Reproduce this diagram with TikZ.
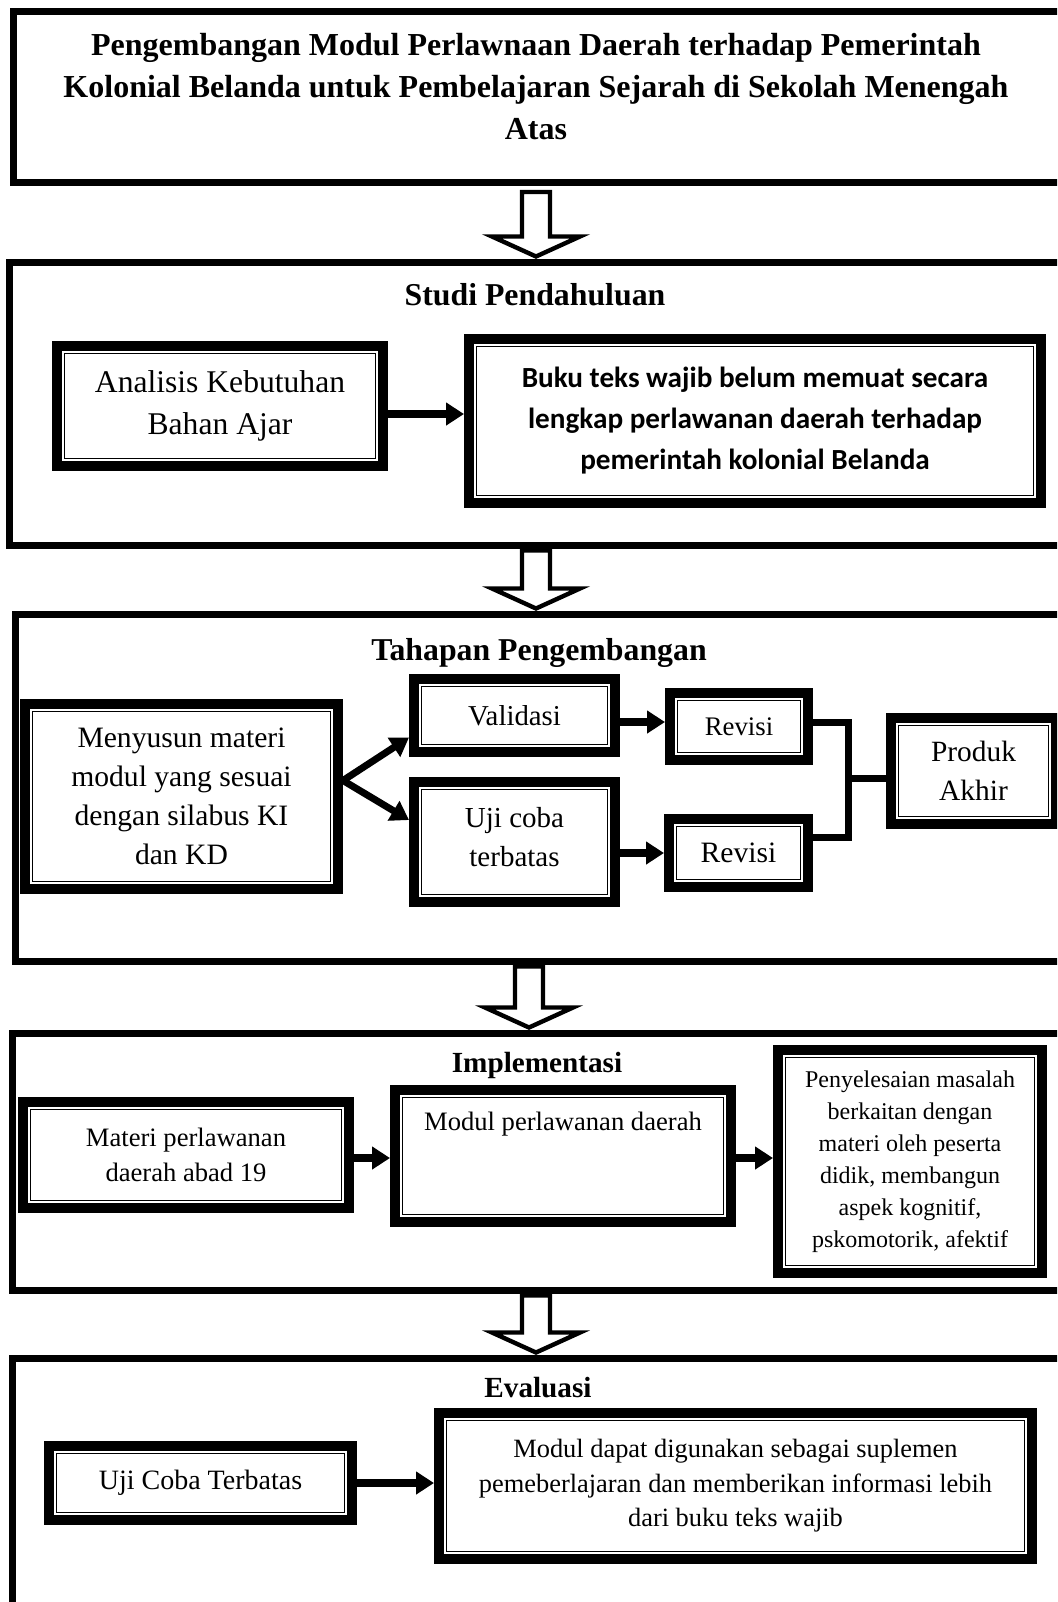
\documentclass[tikz,border=0pt]{standalone}
\usepackage{fontspec}
\setmainfont{Liberation Serif}
\newfontfamily\calib{Carlito}
\usetikzlibrary{arrows.meta,calc}
\newcommand{\fsz}[2]{\fontsize{#1}{#2}\selectfont}
\newcommand{\blockarr}[4]{%
  \coordinate (bx) at (#1,0);
  \path (bx |- #2.south) coordinate (bt) (bx |- #3.north) coordinate (bb);
  \draw[hollow] ($(bt)+(-14,#4)$) -- ($(bt)+(14,#4)$) -- ($(bb)+(14,-22)$) -- ($(bb)+(44,-22)$)
     -- ($(bb)+(0,-2)$) -- ($(bb)+(-44,-22)$) -- ($(bb)+(-14,-22)$) -- cycle;}
\begin{document}
\begin{tikzpicture}[x=0.5pt,y=-0.5pt,
  sec/.style={draw, line width=3.5pt, inner sep=0pt},
  dbox/.style={draw, line width=5pt, inner sep=0pt, align=center, fill=white},
  arr/.style={line width=4pt, -{Triangle[length=9pt,width=11pt]}},
  darr/.style={line width=3.5pt, -{Triangle[length=9pt,width=11pt]}},
  conn/.style={line width=3.5pt},
  hollow/.style={draw, fill=white, line width=2.2pt, line join=miter},
  headA/.style={font=\bfseries\fsz{15.9}{20}},
  headB/.style={font=\bfseries\fsz{14.6}{19}},
]
\useasboundingbox (0,0) rectangle (1057,1602);
\clip (0,0) rectangle (1057,1602);

% section frames
\node[sec, minimum width=530.75pt, minimum height=85.5pt] (s0) at (544.25,97) {};
\node[sec, minimum width=532.75pt, minimum height=141.5pt] (s1) at (542.25,403.5) {};
\node[sec, minimum width=530pt, minimum height=173.5pt] (s2) at (545,787.5) {};
\node[sec, minimum width=531.25pt, minimum height=128.5pt] (s3) at (543.75,1161.5) {};
\node[sec, minimum width=531.25pt, minimum height=141pt] (s4) at (543.75,1499) {};

% title and headings
\node[align=center, font=\bfseries\fsz{16}{21}] (title) at (536,87)
  {Pengembangan Modul Perlawnaan Daerah terhadap Pemerintah\\Kolonial Belanda untuk Pembelajaran Sejarah di Sekolah Menengah\\Atas};
\node[headA] (h1) at (535,295) {Studi Pendahuluan};
\node[headA] (h2) at (539,653) {Tahapan Pengembangan};
\node[headB] (h3) at (537,1065) {Implementasi};
\node[headB] (h4) at (538,1388) {Evaluasi};

% section 2
\node[dbox, minimum width=163pt, minimum height=60pt, font=\fsz{15.8}{21}] (ana) at (220,406) {Analisis Kebutuhan\\Bahan Ajar};
\node[dbox, minimum width=286pt, minimum height=82pt, font=\calib\bfseries\fsz{14.6}{20.5}] (buku) at (755,421)
  {Buku teks wajib belum memuat secara\\lengkap perlawanan daerah terhadap\\pemerintah kolonial Belanda};

% section 3
\node[dbox, minimum width=156.5pt, minimum height=92.5pt, font=\fsz{14.8}{19.5}] (meny) at (181.5,796.5)
  {Menyusun materi\\modul yang sesuai\\dengan silabus KI\\dan KD};
\node[dbox, minimum width=100.5pt, minimum height=36.5pt, font=\fsz{14.4}{19}] (vali) at (514.5,715.5) {Validasi};
\node[dbox, minimum width=100.5pt, minimum height=60pt, font=\fsz{14.5}{19.5}] (uji) at (514.5,842) {Uji coba\\terbatas\rule[-5pt]{0pt}{0pt}};
\node[dbox, minimum width=69pt, minimum height=33.5pt, font=\fsz{13.4}{17}] (rev1) at (739,726.5) {Revisi};
\node[dbox, minimum width=69.5pt, minimum height=34pt, font=\fsz{14.8}{19}] (rev2) at (738.5,853) {Revisi};
\node[dbox, minimum width=82.5pt, minimum height=53pt, font=\fsz{14.7}{19.5}] (prod) at (973.5,771) {Produk\\Akhir};

% section 4
\node[dbox, minimum width=163pt, minimum height=53pt, font=\fsz{13.3}{17.5}] (mat) at (186,1155) {Materi perlawanan\\daerah abad 19};
\node[dbox, minimum width=168pt, minimum height=66pt, font=\fsz{13.3}{17.5}] (modul) at (563,1156)
  {\parbox[c][66pt][t]{160pt}{\centering\rule{0pt}{20pt}Modul perlawanan daerah}};
\node[dbox, minimum width=132pt, minimum height=111.5pt, font=\fsz{12}{16}] (peny) at (910,1161.5)
  {Penyelesaian masalah\\berkaitan dengan\\materi oleh peserta\\didik, membangun\\aspek kognitif,\\pskomotorik, afektif};

% section 5
\node[dbox, minimum width=151.5pt, minimum height=37pt, font=\fsz{14}{18}] (ujict) at (200.5,1483) {Uji Coba Terbatas};
\node[dbox, minimum width=296.5pt, minimum height=73pt, font=\fsz{13.2}{17.2}] (mdapat) at (735.5,1486)
  {Modul dapat digunakan sebagai suplemen\\pemeberlajaran dan memberikan informasi lebih\\dari buku teks wajib};

% inner thin lines of double borders
\foreach \n in {ana,buku,meny,vali,uji,rev1,rev2,prod,mat,modul,peny,ujict,mdapat}
  \draw[line width=0.8pt] ([shift={(12.5,12.5)}]\n.north west) rectangle ([shift={(-12.5,-12.5)}]\n.south east);

% block arrows between sections
\blockarr{536}{s0}{s1}{6}
\blockarr{536}{s1}{s2}{2}
\blockarr{529}{s2}{s3}{2}
\blockarr{536}{s3}{s4}{2}

% connectors
\coordinate (a1) at ($(ana.east)+(0,8)$);
\draw[arr] (a1) -- (a1 -| buku.west);

\coordinate (m1) at ($(meny.east)+(0,-16)$);
\draw[darr] (m1) -- ($(vali.west)+(0,22)$);
\draw[darr] (m1) -- ($(uji.west)+(0,-22)$);

\coordinate (v1) at ($(vali.east)+(0,6.5)$);
\draw[arr] (v1) -- (v1 -| rev1.west);
\draw[arr] (uji.east |- rev2.west) -- (rev2.west);

\coordinate (r1e) at ($(rev1.east)+(0,-4.5)$);
\coordinate (r2e) at ($(rev2.east)+(0,-16)$);
\coordinate (pw) at ($(prod.west)+(0,7)$);
\coordinate (jx) at ($(rev1.east)+(35,0)$);
\draw[conn, line join=miter] (r1e) -| (jx |- r2e) -- (r2e);
\draw[conn] (jx |- pw) -- (pw);

\coordinate (c1) at ($(mat.east)+(0,3)$);
\draw[arr] (c1) -- (c1 -| modul.west);
\coordinate (c2) at ($(modul.east)+(0,2)$);
\draw[arr] (c2) -- (c2 -| peny.west);

\draw[arr] (ujict.east) -- (ujict.east -| mdapat.west);
\end{tikzpicture}
\end{document}
